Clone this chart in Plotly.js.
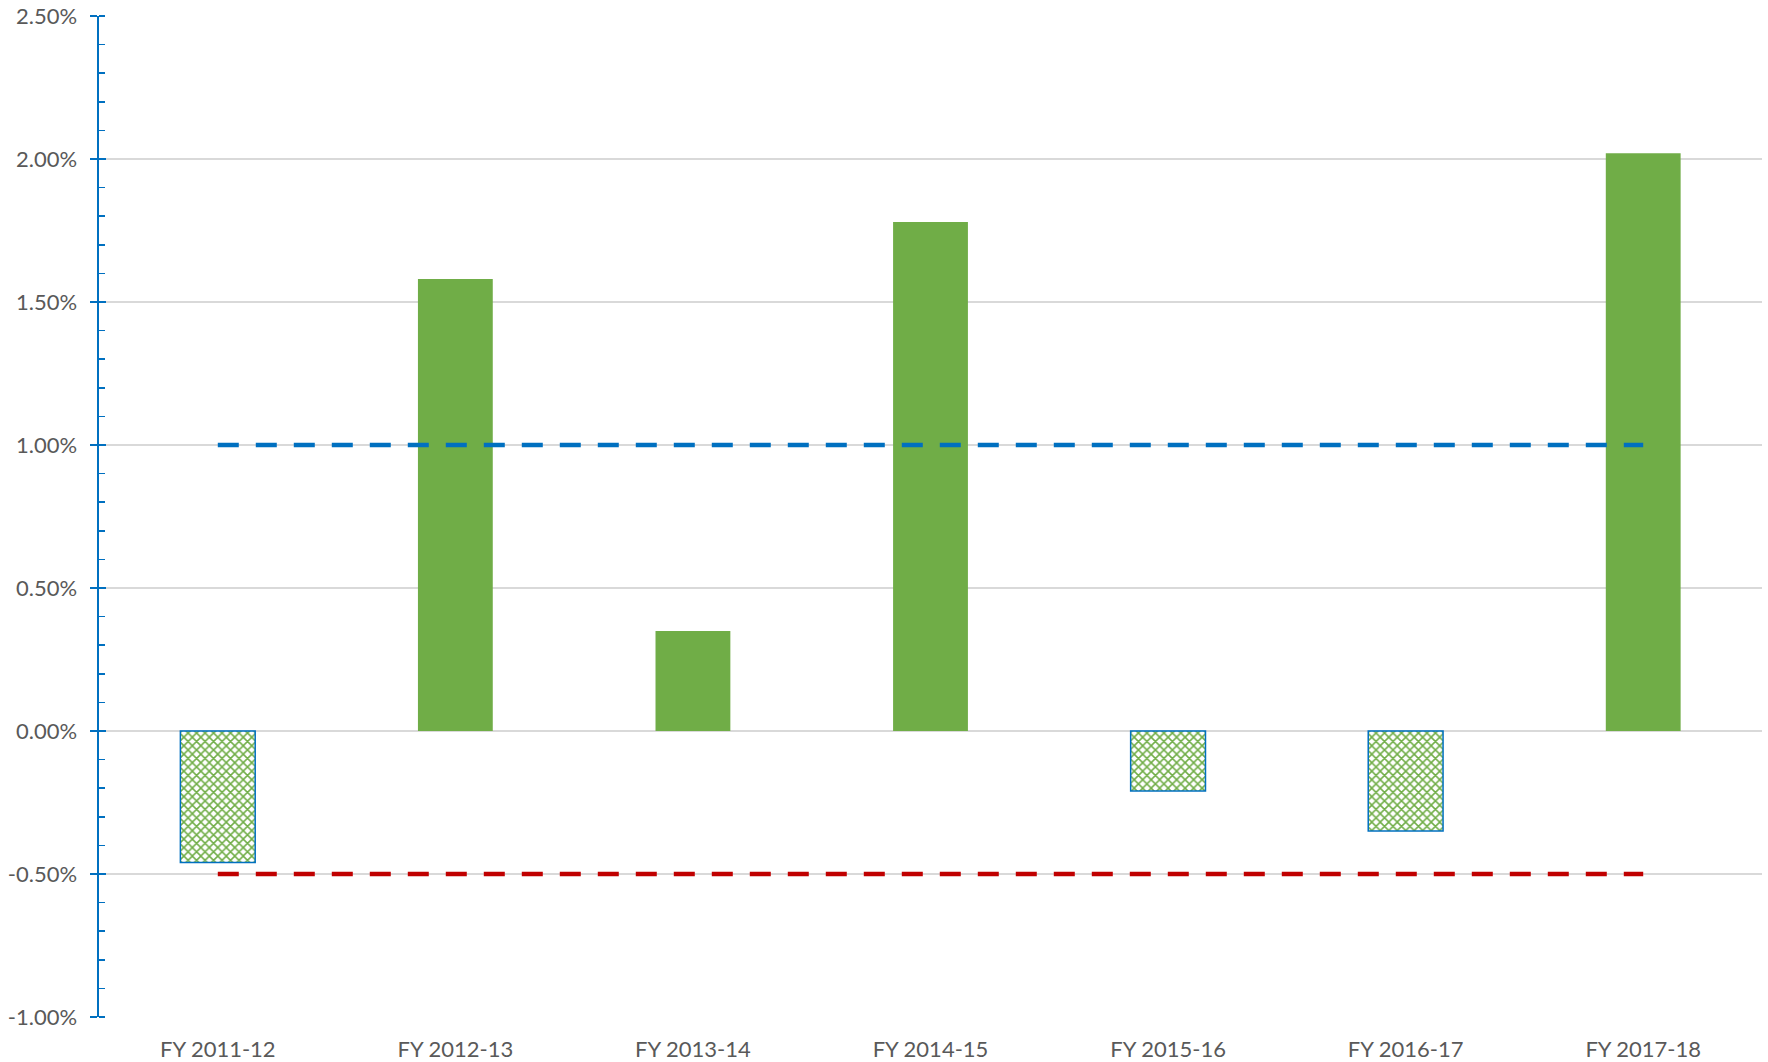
<!DOCTYPE html>
<html>
<head>
<meta charset="utf-8">
<script src="https://cdn.plot.ly/plotly-3.0.1.min.js"></script>
<style>
html,body{margin:0;padding:0;background:#fff;}
#chart{width:1768px;height:1062px;}
</style>
</head>
<body>
<div id="chart"></div>
<script>
// Data (percent)
const categories = ["FY 2011-12", "FY 2012-13", "FY 2013-14", "FY 2014-15", "FY 2015-16", "FY 2016-17", "FY 2017-18"];
const values = [-0.46, 1.58, 0.35, 1.78, -0.21, -0.35, 2.02];
const upperBand = [1.0, 1.0, 1.0, 1.0, 1.0, 1.0, 1.0];
const lowerBand = [-0.5, -0.5, -0.5, -0.5, -0.5, -0.5, -0.5];
const yTickVals = [-1.0, -0.5, 0.0, 0.5, 1.0, 1.5, 2.0, 2.5];
const yTickText = ["-1.00%", "-0.50%", "0.00%", "0.50%", "1.00%", "1.50%", "2.00%", "2.50%"];

const green = "#70AD47";
const blue = "#0070C0";
const red = "#C00000";
const font = "Lato, 'Open Sans', sans-serif";
const fsize = 22;

const traces = [
  {
    type: "bar",
    x: categories,
    y: values,
    width: 0.315,
    marker: {
      color: green,
      pattern: {
        shape: values.map(v => v < 0 ? "x" : ""),
        fgcolor: green,
        bgcolor: "#ffffff",
        fillmode: "overlay",
        fgopacity: 1,
        size: 6,
        solidity: 0.45
      },
      line: {
        color: blue,
        width: values.map(v => v < 0 ? 1.5 : 0)
      }
    },
    hoverinfo: "x+y",
    showlegend: false
  },
  {
    type: "scatter",
    mode: "lines",
    x: categories,
    y: upperBand,
    line: {color: blue, width: 4.5, dash: "21px,17px"},
    showlegend: false
  },
  {
    type: "scatter",
    mode: "lines",
    x: categories,
    y: lowerBand,
    line: {color: red, width: 4.5, dash: "21px,17px"},
    showlegend: false
  },
  {
    type: "scatter",
    mode: "lines",
    x: categories,
    y: upperBand,
    yaxis: "y2",
    line: {width: 0},
    opacity: 0,
    hoverinfo: "skip",
    showlegend: false
  }
];

const layout = {
  width: 1768,
  height: 1062,
  margin: {l: 99, r: 6, t: 16, b: 45},
  paper_bgcolor: "#ffffff",
  plot_bgcolor: "#ffffff",
  font: {family: font, size: fsize, color: "#595959"},
  bargap: 0,
  xaxis: {
    type: "category",
    range: [-0.5, 6.5],
    showgrid: false,
    zeroline: false,
    showline: false,
    ticks: "",
    tickfont: {family: font, size: fsize, color: "#595959"},
    ticklabelstandoff: 17
  },
  yaxis: {
    range: [-1.0, 2.5],
    tickvals: yTickVals,
    ticktext: yTickText,
    showgrid: true,
    gridcolor: "#D9D9D9",
    gridwidth: 1.5,
    zeroline: true,
    zerolinecolor: "#D9D9D9",
    zerolinewidth: 1.5,
    showline: true,
    linecolor: blue,
    linewidth: 2.5,
    ticks: "outside",
    ticklen: 7,
    tickwidth: 2,
    tickcolor: blue,
    minor: {
      dtick: 0.1,
      tick0: 0,
      ticks: "inside",
      ticklen: 6,
      tickwidth: 1.5,
      tickcolor: blue,
      showgrid: false
    },
    tickfont: {family: font, size: fsize, color: "#595959"},
    ticklabelstandoff: 8
  },
  yaxis2: {
    overlaying: "y",
    side: "left",
    range: [-1.0, 2.5],
    tickvals: yTickVals,
    showticklabels: false,
    showgrid: false,
    zeroline: false,
    showline: false,
    ticks: "inside",
    ticklen: 7,
    tickwidth: 2,
    tickcolor: blue
  }
};

Plotly.newPlot("chart", traces, layout, {displayModeBar: false, staticPlot: true});
</script>
</body>
</html>
